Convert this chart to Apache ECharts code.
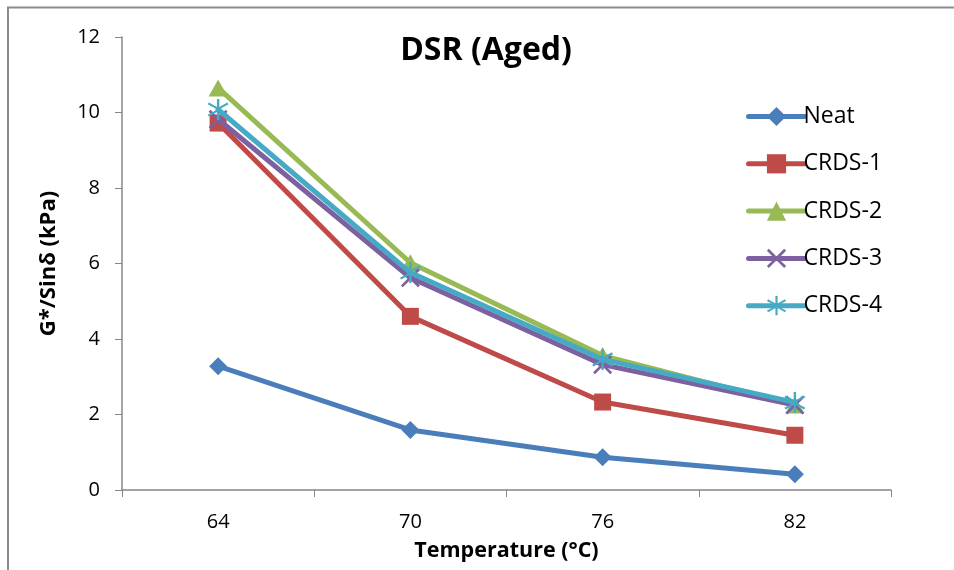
<!DOCTYPE html>
<html><head><meta charset="utf-8">
<script src="https://cdn.jsdelivr.net/npm/echarts@6/dist/echarts.min.js"></script>
<style>html,body{margin:0;padding:0;background:#fff}#c{width:954px;height:570px}</style>
</head><body><div id="c"></div>
<script>
const categories = ['64', '70', '76', '82'];
const neat  = [3.28, 1.59, 0.87, 0.42];
const crds1 = [9.72, 4.60, 2.33, 1.45];
const crds2 = [10.65, 6.02, 3.56, 2.25];
const crds3 = [9.82, 5.62, 3.32, 2.25];
const crds4 = [10.08, 5.76, 3.46, 2.32];
const seriesNames = ['Neat', 'CRDS-1', 'CRDS-2', 'CRDS-3', 'CRDS-4'];
const yTicks = [0, 2, 4, 6, 8, 10, 12];

const FONT = '"Liberation Sans Narrow", "Open Sans", sans-serif';
const colors = ['#4A7EBB', '#BE4B48', '#98B954', '#7D60A0', '#46AAC5'];
const symbols = ['diamond', 'rect', 'triangle', 'cross', 'star'];
const data = [neat, crds1, crds2, crds3, crds4];

const crossPath = 'path://M2,0 L10,8 L18,0 L20,2 L12,10 L20,18 L18,20 L10,12 L2,20 L0,18 L8,10 L0,2 Z';
const starPath = 'path://M9,0 L11,0 L11,7.6 L17.6,3.3 L18.7,5 L12.2,9 L12.2,11 L18.7,15 L17.6,16.7 L11,12.4 L11,20 L9,20 L9,12.4 L2.4,16.7 L1.3,15 L7.8,11 L7.8,9 L1.3,5 L2.4,3.3 L9,7.6 Z';
const symMap = {diamond:'diamond', rect:'rect', triangle:'triangle', cross:crossPath, star:starPath};
const symSize = {diamond:[18,18], rect:[17,17], triangle:[19,17], cross:[19,19], star:[21,21]};

const chart = echarts.init(document.getElementById('c'), null, {renderer:'canvas'});
chart.setOption({
  animation:false,
  backgroundColor:'#fff',
  title:{text:'DSR (Aged)', left:481, top:30, textAlign:'center',
    textStyle:{fontFamily:FONT, fontSize:32, fontWeight:'bold', color:'#000'}},
  legend:{
    orient:'vertical', left:741, top:100, itemGap:24.3, itemWidth:56, itemHeight:24,
    lineStyle:{width:5, cap:'round'},
    textStyle:{fontFamily:FONT, fontSize:23, color:'#000', padding:[0,0,0,-6]},
    data: seriesNames
  },
  grid:{left:122, right:63, top:37, bottom:80, containLabel:false},
  xAxis:{
    type:'category', data:categories, boundaryGap:true,
    name:'Temperature (°C)', nameLocation:'middle', nameGap:50,
    nameTextStyle:{fontFamily:FONT, fontSize:21.5, fontWeight:'bold', color:'#000'},
    axisLine:{lineStyle:{color:'#878787', width:1.5}},
    axisTick:{show:true, alignWithLabel:false, length:7, lineStyle:{color:'#878787'}},
    axisLabel:{fontFamily:FONT, fontSize:20, color:'#000', margin:22},
    splitLine:{show:false}
  },
  yAxis:{
    type:'value', min:yTicks[0], max:yTicks[yTicks.length-1], interval:2,
    name:'G*/Sinδ (kPa)', nameLocation:'middle', nameGap:62, nameRotate:90,
    nameTextStyle:{fontFamily:FONT, fontSize:22, fontWeight:'bold', color:'#000'},
    axisLine:{show:true, lineStyle:{color:'#878787', width:1.5}},
    axisTick:{show:true, length:7, lineStyle:{color:'#878787'}},
    axisLabel:{fontFamily:FONT, fontSize:20, color:'#000', margin:22},
    splitLine:{show:false}
  },
  graphic:[{type:'polyline', silent:true, shape:{points:[[8,580],[8,7.5],[960,7.5]]},
    style:{stroke:'#8c8c8c', lineWidth:2, fill:null}}],
  series: seriesNames.map((n,i)=>({
    name:n, type:'line', data:data[i],
    symbol: symMap[symbols[i]], symbolSize: symSize[symbols[i]],
    lineStyle:{color:colors[i], width:5},
    itemStyle:{color:colors[i], borderColor:colors[i], borderWidth:0},
    z: 2+i
  }))
});
</script></body></html>
